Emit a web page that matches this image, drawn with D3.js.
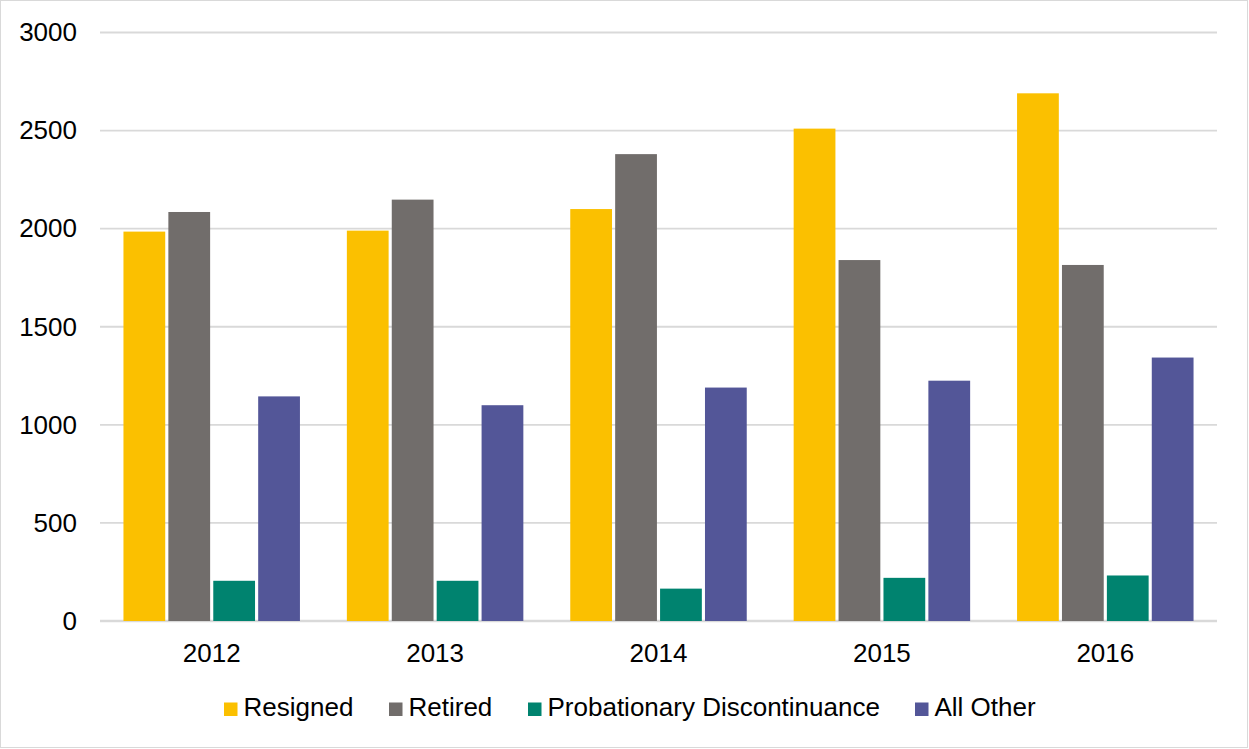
<!DOCTYPE html>
<html>
<head>
<meta charset="utf-8">
<script src="https://cdn.jsdelivr.net/npm/d3@7"></script>
<style>
  body { margin: 0; background: #fff; }
  svg { display: block; font-family: "Liberation Sans", Arial, sans-serif; }
</style>
</head>
<body>
<svg id="chart" width="1249" height="749"></svg>
<script>
const years = ['2012', '2013', '2014', '2015', '2016']
const seriesNames = ['Resigned', 'Retired', 'Probationary Discontinuance', 'All Other']
const resigned = [1985, 1990, 2100, 2510, 2690]
const retired = [2085, 2148, 2380, 1840, 1815]
const probationary = [205, 205, 165, 220, 232]
const allOther = [1145, 1100, 1190, 1225, 1343]
const yTicks = [0, 500, 1000, 1500, 2000, 2500, 3000]
const colors = ['#FBC000', '#716D6B', '#00836F', '#535698']

const values = [resigned, retired, probationary, allOther]
const data = years.map((yr, i) => ({
  year: yr,
  bars: seriesNames.map((s, j) => ({key: s, value: values[j][i]}))
}))

const svg = d3.select('#chart')
const fontSize = 26

// outer frame
svg.append('rect')
  .attr('x', 0.5).attr('y', 0.5)
  .attr('width', 1247).attr('height', 747)
  .attr('fill', '#fff')
  .attr('stroke', '#d9d9d9')

const plotLeft = 100, plotRight = 1217, plotTop = 32.5, plotBottom = 621

const x0 = d3.scaleBand()
  .domain(years)
  .range([plotLeft, plotRight])
  .paddingInner(0.21)
  .paddingOuter(0.105)

const x1 = d3.scaleBand()
  .domain(seriesNames)
  .range([0, x0.bandwidth()])
  .paddingInner(0.07)

const y = d3.scaleLinear()
  .domain([0, 3000])
  .range([plotBottom, plotTop])

const color = d3.scaleOrdinal().domain(seriesNames).range(colors)

// gridlines
svg.append('g')
  .selectAll('line')
  .data(yTicks)
  .join('line')
  .attr('x1', plotLeft)
  .attr('x2', plotRight)
  .attr('y1', d => y(d))
  .attr('y2', d => y(d))
  .attr('stroke', '#d9d9d9')
  .attr('stroke-width', d => d == 0 ? 2.5 : 1.8)

// y axis labels
const yAxis = svg.append('g')
  .attr('transform', `translate(${plotLeft},0)`)
  .call(d3.axisLeft(y).tickValues(yTicks).tickSize(0).tickPadding(23).tickFormat(d3.format('d')))
yAxis.select('.domain').remove()
yAxis.selectAll('text')
  .attr('font-size', fontSize)
  .attr('font-family', '"Liberation Sans", Arial, sans-serif')
  .attr('fill', '#000')

// bars
svg.append('g')
  .selectAll('g')
  .data(data)
  .join('g')
  .attr('transform', d => `translate(${x0(d.year)},0)`)
  .selectAll('rect')
  .data(d => d.bars)
  .join('rect')
  .attr('x', d => x1(d.key))
  .attr('y', d => y(d.value))
  .attr('width', x1.bandwidth())
  .attr('height', d => y(0) - y(d.value))
  .attr('fill', d => color(d.key))

// x axis labels
const xAxis = svg.append('g')
  .attr('transform', `translate(0,${plotBottom})`)
  .call(d3.axisBottom(x0).tickSize(0).tickPadding(23))
xAxis.select('.domain').remove()
xAxis.selectAll('text')
  .attr('font-size', fontSize)
  .attr('font-family', '"Liberation Sans", Arial, sans-serif')
  .attr('fill', '#000')

// legend
const legendX = [224, 389, 528, 915]
const legend = svg.append('g')
  .selectAll('g')
  .data(seriesNames)
  .join('g')
  .attr('transform', (d, i) => `translate(${legendX[i]},702.5)`)
legend.append('rect')
  .attr('width', 13.5)
  .attr('height', 13.5)
  .attr('fill', d => color(d))
legend.append('text')
  .attr('x', 19.5)
  .attr('y', 13.5)
  .attr('font-size', fontSize)
  .attr('fill', '#000')
  .text(d => d)
</script>
</body>
</html>
